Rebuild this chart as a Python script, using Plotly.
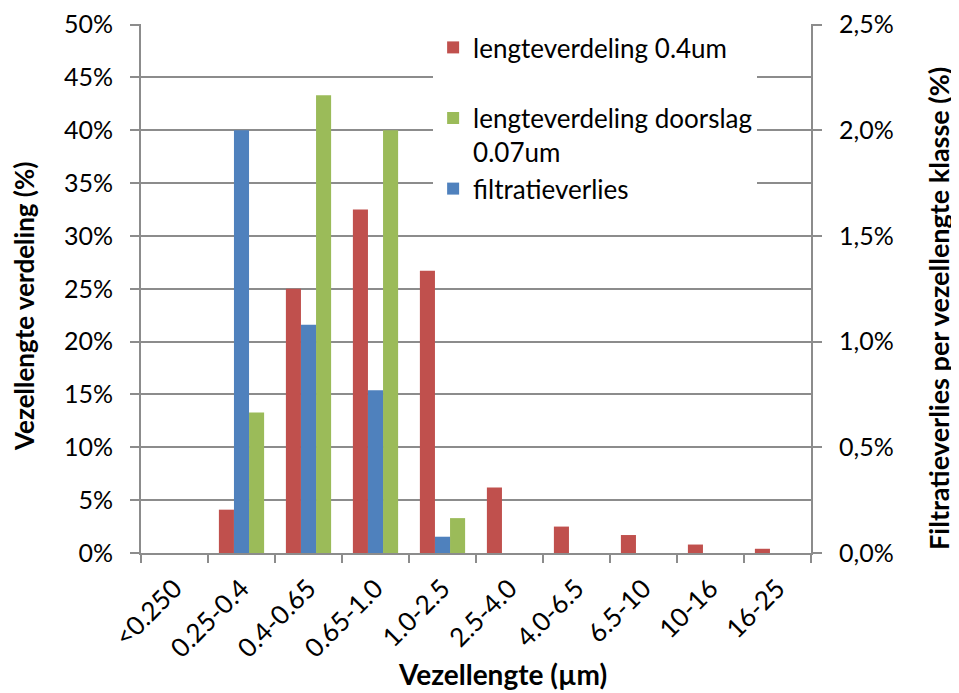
import plotly.graph_objects as go

categories = ["<0.250", "0.25-0.4", "0.4-0.65", "0.65-1.0", "1.0-2.5",
              "2.5-4.0", "4.0-6.5", "6.5-10", "10-16", "16-25"]
lengte_04 = [0, 4.1, 25.0, 32.5, 26.7, 6.2, 2.5, 1.7, 0.8, 0.4]
lengte_doorslag = [0, 13.3, 43.3, 40.0, 3.3, 0, 0, 0, 0, 0]
filtratieverlies = [0, 2.0, 1.08, 0.77, 0.077, 0, 0, 0, 0, 0]

left_ticks = [0, 5, 10, 15, 20, 25, 30, 35, 40, 45, 50]
left_ticktext = ["0%", "5%", "10%", "15%", "20%", "25%", "30%", "35%", "40%", "45%", "50%"]
right_ticks = [0, 0.5, 1.0, 1.5, 2.0, 2.5]
right_ticktext = ["0,0%", "0,5%", "1,0%", "1,5%", "2,0%", "2,5%"]

FONT = "Lato"
TICK = 25
bw = 0.225

fig = go.Figure()
fig.add_trace(go.Bar(x=categories, y=lengte_04, name="lengteverdeling 0.4um<br> ",
                     marker=dict(color="#C0504D", line=dict(width=0)),
                     width=bw, offset=-1.5 * bw, legendrank=1))
fig.add_trace(go.Bar(x=categories, y=filtratieverlies, name="filtratieverlies", yaxis="y2",
                     marker=dict(color="#4F81BD", line=dict(width=0)),
                     width=bw, offset=-0.5 * bw, legendrank=3))
fig.add_trace(go.Bar(x=categories, y=lengte_doorslag, name="lengteverdeling doorslag<br>0.07um",
                     marker=dict(color="#9BBB59", line=dict(width=0)),
                     width=bw, offset=0.5 * bw, legendrank=2))

axis_col = "#8C8C8C"
fig.update_layout(
    width=951, height=685,
    margin=dict(l=133, r=148, t=16, b=140, autoexpand=False),
    paper_bgcolor="white", plot_bgcolor="white",
    font=dict(family=FONT, size=TICK, color="black"),
    barmode="overlay",
    showlegend=True,
    legend=dict(x=0.436, y=1.0, xanchor="left", yanchor="top",
                bgcolor="white", font=dict(size=26), valign="top",
                traceorder="normal", tracegroupgap=0, itemwidth=30),
    xaxis=dict(type="category", tickangle=-45, ticks="outside", tickson="boundaries",
               ticklen=8, tickcolor=axis_col, tickwidth=2,
               showline=True, linecolor=axis_col, linewidth=2,
               showgrid=False, tickfont=dict(size=26), ticklabelstandoff=8,
               automargin=False, range=[-0.5, 9.5]),
    yaxis=dict(range=[0, 50.05], tickvals=left_ticks, ticktext=left_ticktext,
               ticks="outside", ticklen=9, tickcolor=axis_col, tickwidth=2,
               showline=True, linecolor=axis_col, linewidth=2,
               showgrid=True, gridcolor="#8C8C8C", gridwidth=2, zeroline=False,
               ticklabelstandoff=12, automargin=False),
    yaxis2=dict(range=[0, 2.5025], tickvals=right_ticks, ticktext=right_ticktext,
                overlaying="y", side="right",
                ticks="outside", ticklen=9, tickcolor=axis_col, tickwidth=2,
                showline=True, linecolor=axis_col, linewidth=2,
                showgrid=False, zeroline=False, ticklabelstandoff=12, automargin=False),
    annotations=[
        dict(text="<b>Vezellengte (µm)</b>", xref="paper", yref="paper",
             x=0.540, y=-0.228, xanchor="center", yanchor="middle", showarrow=False,
             font=dict(size=28)),
        dict(text="<b>Vezellengte verdeling (%)</b>", xref="paper", yref="paper",
             x=-0.174, y=0.466, xanchor="center", yanchor="middle", showarrow=False,
             textangle=-90, font=dict(size=26)),
        dict(text="<b>Filtratieverlies per vezellengte klasse (%)</b>", xref="paper", yref="paper",
             x=1.19, y=0.462, xanchor="center", yanchor="middle", showarrow=False,
             textangle=-90, font=dict(size=27)),
    ],
)

fig.write_html("out.html")
